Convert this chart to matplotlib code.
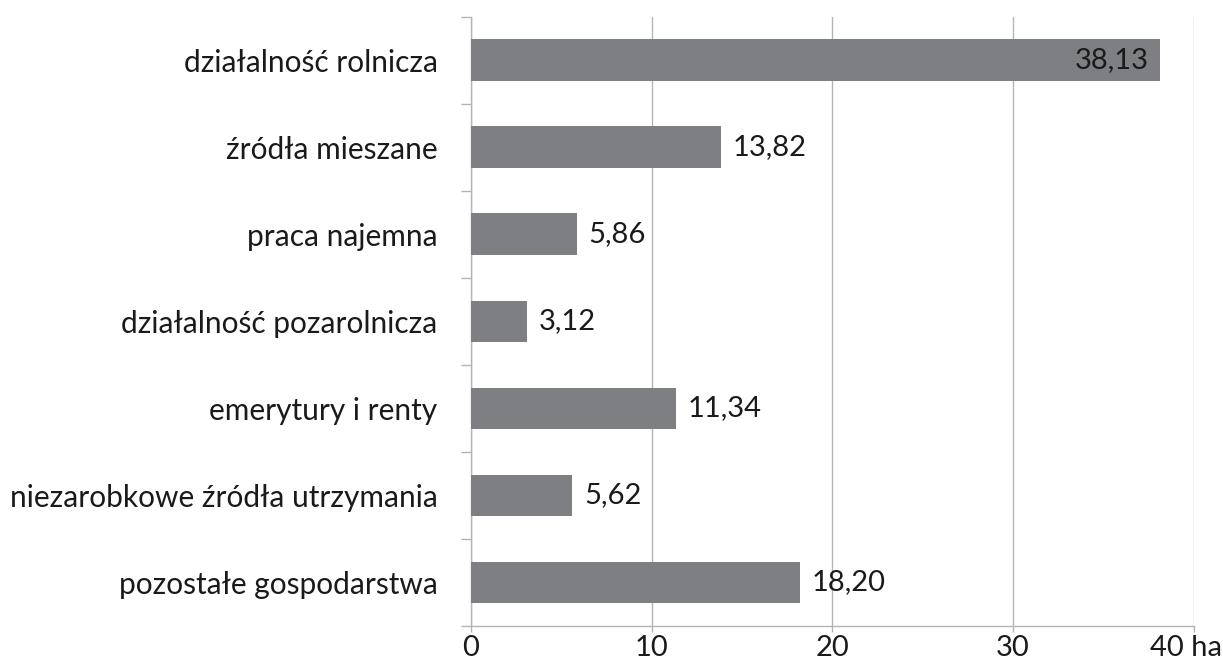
import matplotlib.pyplot as plt
import matplotlib.transforms as mtransforms
import numpy as np

plt.rcParams['font.family'] = ['Lato', 'DejaVu Sans']

categories = ["działalność rolnicza", "źródła mieszane", "praca najemna",
              "działalność pozarolnicza", "emerytury i renty",
              "niezarobkowe źródła utrzymania", "pozostałe gospodarstwa"]
values = [38.13, 13.82, 5.86, 3.12, 11.34, 5.62, 18.20]
x_ticks = [0, 10, 20, 30, 40]
x_tick_labels = ["0", "10", "20", "30", "40 ha"]

bar_color = "#7e7f83"
grid_color = "#b4b4b4"
text_color = "#1a1a1a"

fig = plt.figure(figsize=(12.23, 6.71), dpi=100)
ax = fig.add_axes([0.385, 0.067, 0.591, 0.908])

y = np.arange(len(categories))
ax.barh(y, values, height=0.48, color=bar_color, zorder=3)

for yi, v in zip(y, values):
  txt = ("%.2f" % v).replace(".", ",")
  if v > 30:
    ax.annotate(txt, (v, yi), xytext=(-11, 0), textcoords="offset pixels",
                ha="right", va="center", fontsize=21, color=text_color, zorder=4)
  else:
    ax.annotate(txt, (v, yi), xytext=(12, 0), textcoords="offset pixels",
                ha="left", va="center", fontsize=21, color=text_color, zorder=4)

ax.set_xlim(0, 40)
ax.set_ylim(len(categories) - 0.5, -0.5)

ax.set_xticks(x_ticks)
ax.set_xticklabels(x_tick_labels, fontsize=21, color=text_color)
ax.set_yticks(y)
ax.set_yticklabels(categories, fontsize=21.5, color=text_color)
ax.set_yticks(np.arange(len(categories) + 1) - 0.5, minor=True)

ax.tick_params(axis="y", which="major", length=0, pad=24)
ax.tick_params(axis="y", which="minor", length=7, width=1, color=grid_color)
ax.tick_params(axis="x", length=4.5, width=1, color=grid_color, pad=2)

# keep "40 ha" inside the figure
last = ax.get_xticklabels()[-1]
last.set_horizontalalignment("right")
last.set_transform(last.get_transform() +
                   mtransforms.ScaledTranslation(0.28, 0, fig.dpi_scale_trans))

ax.grid(axis="x", color=grid_color, linewidth=1, zorder=0)
for s in ["top", "right"]:
  ax.spines[s].set_visible(False)
for s in ["left", "bottom"]:
  ax.spines[s].set_color(grid_color)
  ax.spines[s].set_linewidth(1)

fig.savefig("out.png", dpi=100)
